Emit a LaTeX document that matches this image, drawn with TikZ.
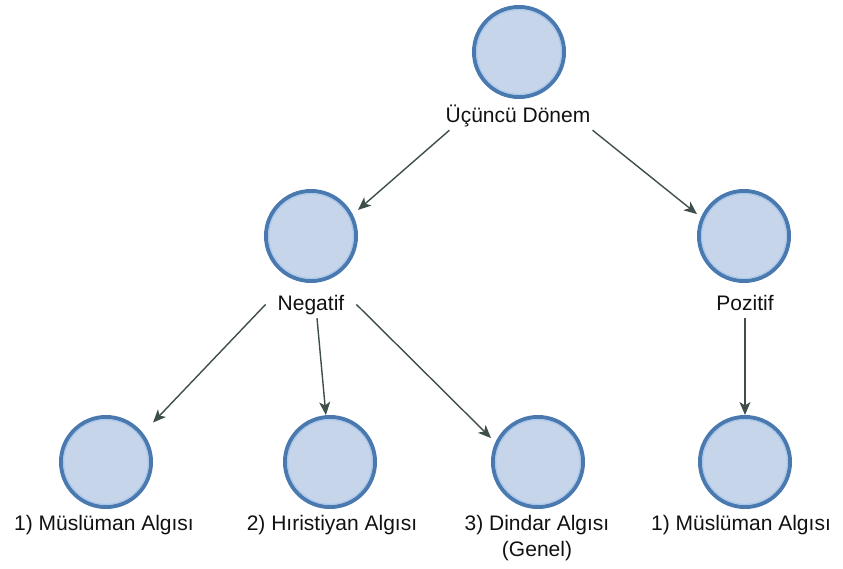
\documentclass[tikz,border=0pt]{standalone}
\usepackage{fontspec}
\setmainfont{Liberation Sans}
\usepackage{xcolor}
\usepackage{tikz}
\usetikzlibrary{arrows.meta}
\definecolor{ringdark}{HTML}{4A79AF}
\definecolor{ringlight}{HTML}{A8C7EA}
\definecolor{ballfill}{HTML}{C6D5EA}
\definecolor{linkgray}{HTML}{3E4E4B}
\definecolor{txt}{HTML}{111111}

\tikzset{
  ball/.style={rectangle, minimum size=94pt, inner sep=0pt, outer sep=0pt,
    path picture={
      \fill[ballfill] (path picture bounding box.center) circle[radius=45pt];
      \draw[ringdark, line width=4pt] (path picture bounding box.center) circle[radius=45pt];
      \draw[ringlight, line width=1.2pt] (path picture bounding box.center) circle[radius=42.4pt];
    }},
  lbl/.style={text=txt, font=\fontsize{21}{26}\selectfont, inner xsep=12pt, inner ysep=3pt, align=center},
  lblone/.style={lbl, text height=16pt, text depth=5pt, anchor=base},
  link/.style={draw=linkgray, line width=1.4pt, -{Stealth[length=13pt,width=11pt,inset=3.5pt]}},
}

\begin{document}
\begin{tikzpicture}[x=1pt,y=-1pt]
\useasboundingbox (0,0) rectangle (843,568);

% layout the circles
\node[ball] (donem) at (519,52) {};
\node[ball] (neg) at (311,236) {};
\node[ball] (poz) at (744,236) {};
\node[ball] (muslneg) at (106,462) {};
\node[ball] (hir) at (330,462) {};
\node[ball] (dind) at (538,462) {};
\node[ball] (muslpoz) at (745,462) {};

% names under the circles
\node[lblone] (donemlbl) at (518,122) {Üçüncü Dönem};
\node[lblone] (neglbl) at (311,310) {Negatif};
\node[lblone] (pozlbl) at (745,310) {Pozitif};
\node[lblone] (muslneglbl) at (104,530) {1) Müslüman Algısı};
\node[lblone] (hirlbl) at (332,530) {2) Hıristiyan Algısı};
\node[lbl, anchor=north] (dindlbl) at (537,511.7) {3) Dindar Algısı\\(Genel)};
\node[lblone] (muslpozlbl) at (741,530) {1) Müslüman Algısı};

\draw[link] ([xshift=16pt]donemlbl.south west) -- (neg.29);
\draw[link] ([xshift=-10pt]donemlbl.south east) -- (poz.155);
\draw[link] (neglbl.west) -- (muslneg.40);
\draw[link] ([xshift=6pt]neglbl.south) -- (hir.95);
\draw[link] (neglbl.east) -- (dind.153);
\draw[link] (pozlbl.south) -- (muslpoz.north);

\end{tikzpicture}
\end{document}
